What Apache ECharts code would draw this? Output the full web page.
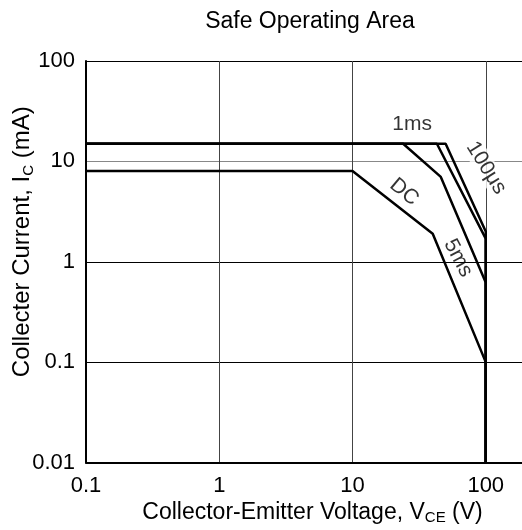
<!DOCTYPE html>
<html><head><meta charset="utf-8">
<script src="https://cdn.jsdelivr.net/npm/echarts@6/dist/echarts.min.js"></script>
<style>html,body{margin:0;padding:0;background:#fff}#c{width:522px;height:530px}</style>
</head><body><div id="c"></div>
<script>
// Curves: collector-emitter voltage (V) and collector current (mA)
const dcV = [0.1, 10, 40, 100, 100];
const dcI = [8, 8, 1.9, 0.1, 0.01];
const ms5V = [0.1, 24, 46, 100, 100];
const ms5I = [15, 15, 7, 0.62, 0.01];
const ms1V = [0.1, 43, 100, 100];
const ms1I = [15, 15, 1.7, 0.01];
const us100V = [0.1, 50, 100, 100];
const us100I = [15, 15, 2.0, 0.01];
const xTicks = ['0.1', '1', '10', '100'];
const yTicks = ['0.01', '0.1', '1', '10', '100'];
const curveNames = ['DC', '5ms', '1ms', '100μs'];
const labelV = [24.4, 62, 28, 100.7];
const labelI = [4.96, 1.09, 23.6, 8.6];

const FONT = '"Liberation Sans", Arial, sans-serif';
const zip = (a, b) => a.map((v, i) => [v, b[i]]);
const tickFmt = list => v => {
  const s = list.find(t => Math.abs(Math.log10(parseFloat(t)) - Math.log10(v)) < 1e-6);
  return s === undefined ? '' : s;
};
const lineSeries = (name, V, I) => ({
  name, type: 'line', data: zip(V, I), symbol: 'none', silent: true,
  lineStyle: { color: '#000', width: 2.5 }, z: 5
});
const rotations = [-40, -62, 0, -58];
const labelBg = [null, null, null, '#fff'];

const chart = echarts.init(document.getElementById('c'), null, { renderer: 'canvas' });
chart.setOption({
  animation: false,
  backgroundColor: '#fff',
  title: {
    text: 'Safe Operating Area', left: 305, top: 5, textAlign: 'center',
    textStyle: { fontFamily: FONT, fontSize: 23, fontWeight: 'normal', color: '#000' }
  },
  grid: { left: 86, top: 61, width: 533, height: 401.5, containLabel: false, outerBoundsMode: 'none' },
  xAxis: {
    type: 'log', logBase: 10, min: 0.1, max: 1000,
    name: 'Collector-Emitter Voltage, V{sub|CE} (V)',
    nameLocation: 'middle', nameGap: 37, nameMoveOverlap: false,
    nameTextStyle: {
      fontFamily: FONT, fontSize: 23, color: '#000', lineHeight: 26, verticalAlign: 'top',
      padding: [0, 80, 0, 0],
      rich: { sub: { fontFamily: FONT, fontSize: 15, color: '#000', lineHeight: 15, padding: [10, 0, 0, 0], verticalAlign: 'bottom' } }
    },
    axisLine: { show: true, lineStyle: { color: '#000', width: 2 } },
    axisTick: { show: false },
    minorTick: { show: false },
    axisLabel: { formatter: tickFmt(xTicks), fontFamily: FONT, fontSize: 22, color: '#000', margin: 12 },
    splitLine: { show: true, lineStyle: { color: '#444', width: 1 } }
  },
  yAxis: {
    type: 'log', logBase: 10, min: 0.01, max: 100,
    name: 'Collecter Current, I{sub|C} (mA)',
    nameLocation: 'middle', nameGap: 50, nameMoveOverlap: false,
    nameTextStyle: {
      fontFamily: FONT, fontSize: 24, color: '#000', lineHeight: 28,
      padding: [0, 0, 0, 40],
      rich: { sub: { fontFamily: FONT, fontSize: 15, color: '#000', lineHeight: 15, padding: [10, 0, 0, 0], verticalAlign: 'bottom' } }
    },
    axisLine: { show: true, lineStyle: { color: '#000', width: 2 } },
    axisTick: { show: false },
    axisLabel: { formatter: tickFmt(yTicks), fontFamily: FONT, fontSize: 22, color: '#000', margin: 11 },
    splitLine: { show: true, lineStyle: { color: ['#000', '#000', '#000', '#888', '#000'], width: 1 } }
  },
  series: [
    lineSeries('DC', dcV, dcI),
    lineSeries('5ms', ms5V, ms5I),
    lineSeries('1ms', ms1V, ms1I),
    lineSeries('100μs', us100V, us100I),
    {
      type: 'scatter', symbolSize: 0, silent: true, z: 10,
      data: curveNames.map((n, i) => ({
        value: [labelV[i], labelI[i]], name: n,
        label: Object.assign({
          show: true, position: 'inside', formatter: n, rotate: rotations[i],
          fontFamily: FONT, fontSize: 21, color: '#000'
        }, labelBg[i] ? { backgroundColor: labelBg[i], padding: [0, 1] } : {})
      }))
    }
  ]
});
</script></body></html>
